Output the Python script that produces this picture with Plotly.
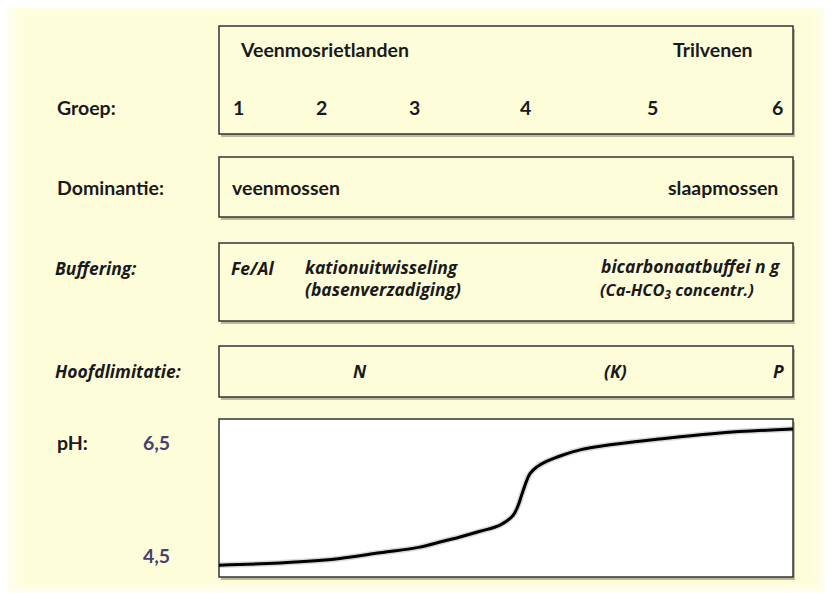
import plotly.graph_objects as go

PAGE_W, PAGE_H = 832, 593
OFF = 8  # default body margin of the html page
W, H = PAGE_W - OFF, PAGE_H - OFF

# ---- data ----
groups = ["1", "2", "3", "4", "5", "6"]
gradient_pos = [0, 3.66, 14.11, 21.08, 28.05, 35.02, 38.50, 41.99, 45.47, 48.95,
                51.22, 52.09, 52.79, 54.18, 55.40, 57.14, 59.93, 62.89,
                68.12, 75.61, 87.28, 100]
ph_values = [4.32, 4.33, 4.38, 4.44, 4.54, 4.64, 4.73, 4.82, 4.92, 5.03,
             5.20, 5.37, 5.58, 5.94, 6.06, 6.16, 6.27, 6.36,
             6.45, 6.54, 6.66, 6.73]
ph_ticks = ["6,5", "4,5"]

BG = "#FEFDDA"
EDGE = "#333333"
TXT = "#1a1a1a"
PURP = "#4a4070"
FONT = "Lato"
IFONT = "Open Sans"

fig = go.Figure()

fig.add_trace(go.Scatter(x=gradient_pos, y=ph_values, mode="lines",
                         line=dict(color="rgba(0,0,0,0.15)", width=6, shape="spline"),
                         xaxis="x2", yaxis="y2", hoverinfo="skip", showlegend=False))
fig.add_trace(go.Scatter(x=gradient_pos, y=ph_values, mode="lines",
                         line=dict(color="black", width=3, shape="spline"),
                         xaxis="x2", yaxis="y2", showlegend=False))

shapes = []
shapes.append(dict(type="rect", xref="x", yref="y", x0=0, x1=PAGE_W, y0=0, y1=PAGE_H,
                   fillcolor="#FFFFF6", line=dict(width=0), layer="below"))
for i, c in enumerate(["#FEFEEE", "#FEFEE8", "#FEFDE2", "#FEFDDE", BG]):
    shapes.append(dict(type="rect", xref="x", yref="y",
                       x0=6 + 5 * i, x1=PAGE_W - 4 - 4 * i,
                       y0=3 + 3 * i, y1=PAGE_H - 2 - 2 * i,
                       fillcolor=c, line=dict(width=0), layer="below"))

boxes = [
    (219, 793, 26, 134, BG),
    (219, 793, 157, 217, BG),
    (219, 793, 243, 321, BG),
    (219, 793, 346, 397, BG),
    (219, 793, 419, 577, "white"),
]
for x0, x1, y0, y1, fc in boxes:
    shapes.append(dict(type="rect", xref="x", yref="y", x0=x0 + 2, x1=x1 + 2,
                       y0=y0 + 3, y1=y1 + 3, fillcolor="rgba(60,60,40,0.35)",
                       line=dict(width=0), layer="below"))
    shapes.append(dict(type="rect", xref="x", yref="y", x0=x0, x1=x1, y0=y0, y1=y1,
                       fillcolor=fc, line=dict(color=EDGE, width=1.5), layer="below"))

ann = []


def t(x, y, s, size=19.5, italic=False, color=TXT, isize=17.5):
    txt = "<b>" + s + "</b>"
    fam = FONT
    if italic:
        txt = "<i>" + txt + "</i>"
        fam = IFONT
        size = isize
    ann.append(dict(x=x, y=y, xref="x", yref="y", text=txt, showarrow=False,
                    xanchor="left", yanchor="middle",
                    font=dict(family=fam, size=size, color=color)))


t(238, 49, "Veenmosrietlanden")
t(671, 49, "Trilvenen")
num_x = [231, 314, 407, 518, 645, 770]
for g, x in zip(groups, num_x):
    t(x, 107, g)
t(55, 107, "Groep:")
t(55, 187, "Dominantie:")
t(230, 187, "veenmossen")
t(666, 187, "slaapmossen")
t(53, 268, "Buffering:", italic=True)
t(229, 268, "Fe/Al", italic=True)
t(303, 267, "kationuitwisseling", italic=True)
t(303, 289, "(basenverzadiging)", italic=True)
t(599, 266, "bicarbonaatbuffei n g", italic=True, isize=17.5)
t(598, 290, "(Ca-HCO<sub>3</sub> concentr.)", italic=True, isize=16.5)
t(53, 371, "Hoofdlimitatie:", italic=True)
t(351, 371, "N", italic=True)
t(602, 371, "(K)", italic=True)
t(771, 371, "P", italic=True)
t(55, 442, "pH:")
t(141, 442, ph_ticks[0], color=PURP)
t(141, 555, ph_ticks[1], color=PURP)

fig.update_layout(
    width=W, height=H, margin=dict(l=0, r=0, t=0, b=0),
    paper_bgcolor="white", plot_bgcolor="rgba(0,0,0,0)",
    shapes=shapes, annotations=ann, showlegend=False,
    xaxis=dict(range=[OFF, PAGE_W], visible=False, domain=[0, 1], fixedrange=True),
    yaxis=dict(range=[PAGE_H, OFF], visible=False, domain=[0, 1], fixedrange=True),
    xaxis2=dict(range=[0, 100], visible=False,
                domain=[(219 - OFF) / W, (793 - OFF) / W], anchor="y2"),
    yaxis2=dict(range=[4.111, 6.907], visible=False,
                domain=[(PAGE_H - 577) / H, (PAGE_H - 419) / H], anchor="x2"),
)

fig.write_html("out.html")
